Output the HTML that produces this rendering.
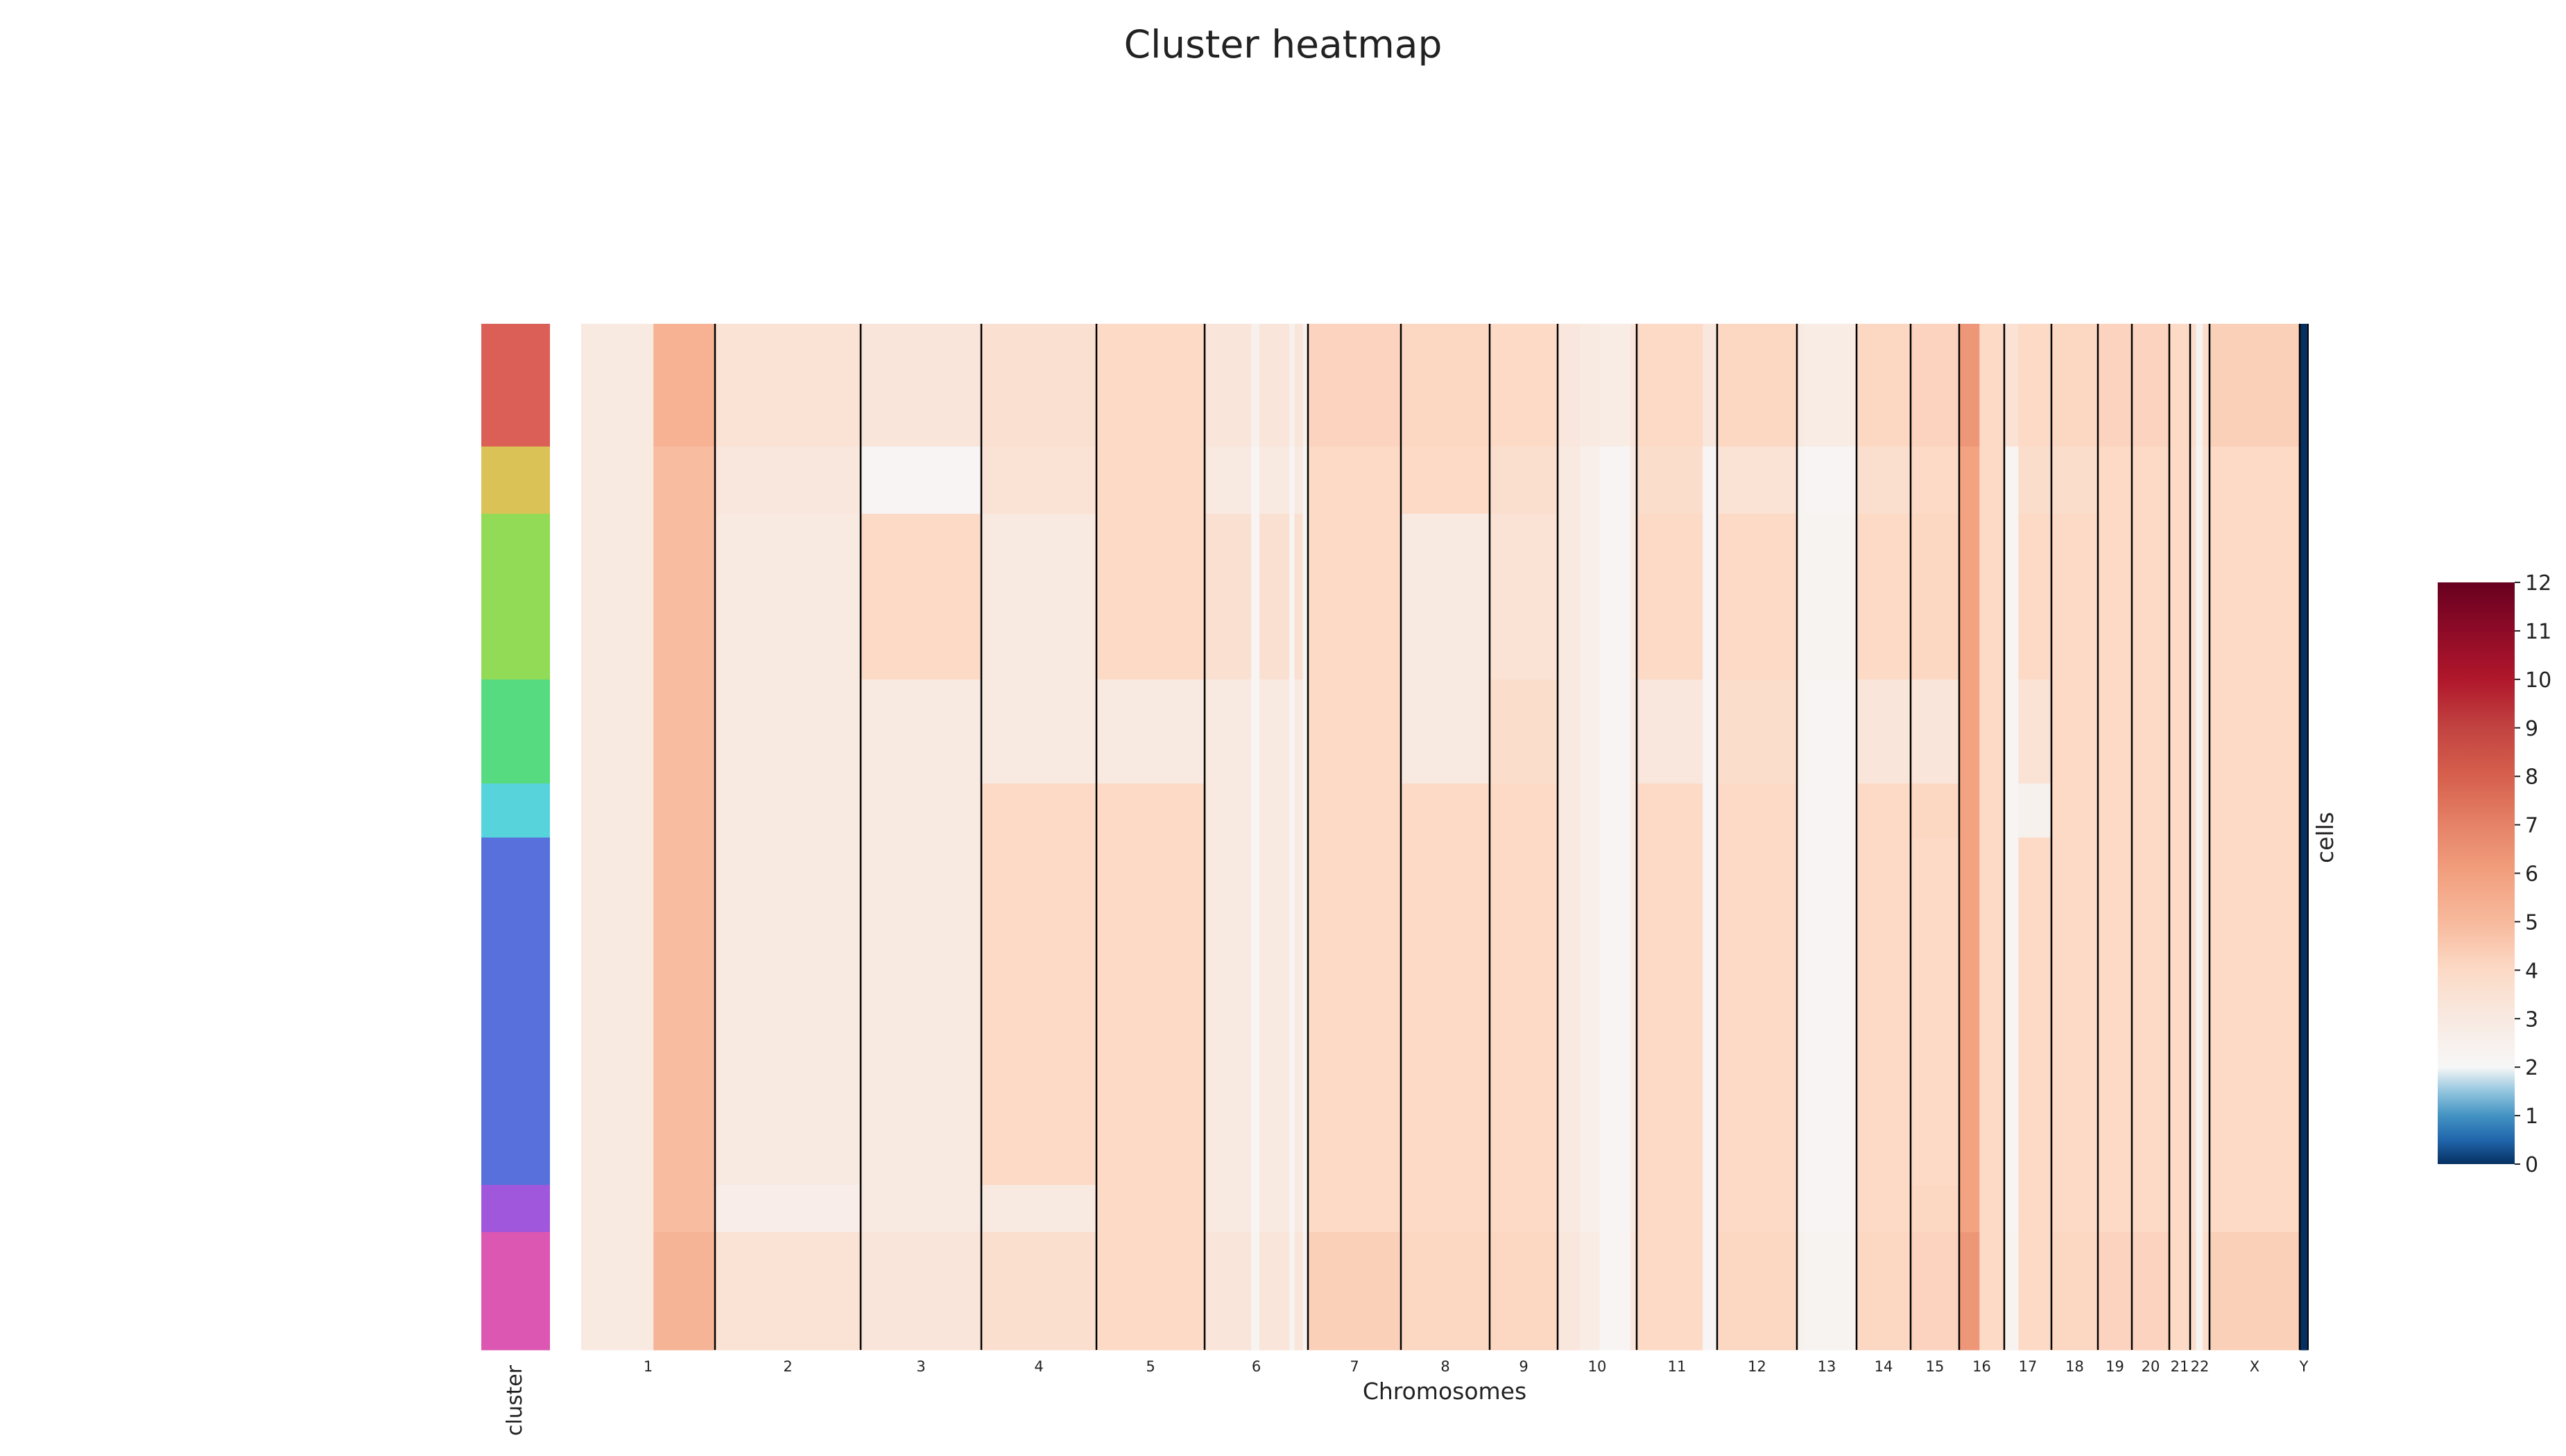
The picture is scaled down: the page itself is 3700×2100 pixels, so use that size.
<!DOCTYPE html>
<html><head><meta charset="utf-8"><title>Cluster heatmap</title>
<style>html,body{margin:0;padding:0;background:#fff;}svg{display:block;font-family:"DejaVu Sans","Liberation Sans",sans-serif;}</style>
</head><body>
<svg id="chart" width="3700" height="2100" viewBox="0 0 3700 2100" xmlns="http://www.w3.org/2000/svg">
<rect x="0" y="0" width="3700" height="2100" fill="#ffffff"/>
<text x="1850" y="83" text-anchor="middle" font-size="55" fill="#222">Cluster heatmap</text>
<g id="clusterBar"></g>
<g id="heat"></g>
<g id="sepLines"></g>
<g id="xTicks"></g>
<text x="2083" y="2018" text-anchor="middle" font-size="33" fill="#222">Chromosomes</text>
<text transform="translate(752,2020) rotate(-90)" text-anchor="middle" font-size="30" fill="#222">cluster</text>
<text transform="translate(3364,1208) rotate(-90)" text-anchor="middle" font-size="33" fill="#222">cells</text>
<defs><linearGradient id="cbGrad" x1="0" y1="1" x2="0" y2="0"></linearGradient></defs>
<rect x="3515" y="840" width="111" height="839" fill="url(#cbGrad)"/>
<g id="cbTicks"></g>
</svg>
<script>
const chromNames = ["1","2","3","4","5","6","7","8","9","10","11","12","13","14","15","16","17","18","19","20","21","22","X","Y"];
const chromBins = [193,210,174,166,156,149,134,128,98,114,116,115,86,78,70,65,68,67,49,54,30,28,130,12];
const clusterNames = ["c0","c1","c2","c3","c4","c5","c6","c7"];
const clusterColors = ["#db5f57","#dbc257","#91db57","#57db80","#57d3db","#5770db","#a157db","#db57b2"];
const clusterSizes = [177,97,239,150,78,501,68,170];
// segments: [chromIndex, startFrac, endFrac]
const segChrom = [0,0,1,2,3,4,5,5,5,5,5,5,6,7,8,9,9,9,9,10,10,11,12,12,13,14,15,15,16,16,17,18,19,20,21,21,21,22,23];
const segStart = [0,0.54,0,0,0,0,0,0.45,0.53,0.82,0.87,0.95,0,0,0,0,0.28,0.53,0.92,0,0.82,0,0,0.12,0,0,0,0.45,0,0.3,0,0,0,0,0,0.3,0.65,0,0];
const segEnd   = [0.54,1,1,1,1,1,0.45,0.53,0.82,0.87,0.95,1,1,1,1,0.28,0.53,0.92,1,0.82,1,1,0.12,1,1,1,0.45,1,0.3,1,1,1,1,1,0.3,0.65,1,1,1];
const valRed    = [3,5.3,3.5,3.3,3.6,4,3.3,2.5,3.3,2.5,3.3,2.5,4.2,4.1,4,3.2,3,2.8,3.3,4,3.2,4.1,3,2.8,4.1,4.2,6.3,4,3.5,4,4.1,4.2,4.2,4,3.8,2.3,3.8,4.3,0];
const valYellow = [3,4.9,3.2,2.2,3.5,4,3,2.2,3,2.2,3,2.2,4,4,3.7,3,2.6,2.2,3,3.8,2.2,3.5,2.3,2.2,3.7,4,5.9,4,2.2,3.8,3.8,4,4,4,3.6,2.2,3.6,4,0];
const valGreen  = [3,4.9,3,4,3,4,3.6,2.2,3.6,2.2,3.6,2.2,4,3,3.5,3,2.6,2.2,3,4,2.2,4,2.3,2.3,4,4.1,5.9,4,2.2,4,4,4,4,4,3.6,2.2,3.6,4,0];
const valGreen2 = [3,4.9,3,3,3,3,3,2.2,3,2.2,3,2.2,4,3,3.8,3,2.6,2.2,3,3.2,2.2,3.8,2.3,2.2,3.3,3.3,5.9,4,2.2,3.5,4,4,4,4,3.6,2.2,3.6,4,0];
const valCyan   = [3,4.9,3,3,4,4,3,2.2,3,2.2,3,2.2,4,4,4,3,2.6,2.2,3,4,2.2,4,2.3,2.2,4,4.1,5.9,4,2.2,2.4,4,4,4,4,3.6,2.2,3.6,4,0];
const valBlue   = [3,4.9,3,3,4,4,3,2.2,3,2.2,3,2.2,4,4,4,3,2.6,2.2,3,4,2.2,4,2.3,2.2,4,4,5.9,4,2.2,4,4,4,4,4,3.6,2.2,3.6,4,0];
const valPurple = [3,4.9,2.7,3,3,4,3,2.2,3,2.2,3,2.2,4,4,4,3,2.6,2.2,3,4,2.2,4,2.3,2.2,4,4.1,5.9,4,2.2,4,4,4,4,4,3.6,2.2,3.6,4,0];
const valPink   = [3,5.2,3.5,3.3,3.7,4,3.3,2.3,3.3,2.3,3.3,2.3,4.3,4.1,4.1,3.2,2.8,2.2,3.2,4,2.2,4.1,2.4,2.3,4.1,4.2,6.3,4,2.3,4,4.1,4.2,4.2,4,3.8,2.3,3.8,4.3,0];
const cbTickLabels = ["0","1","2","3","4","5","6","7","8","9","10","11","12"];

const clusterValues = [valRed,valYellow,valGreen,valGreen2,valCyan,valBlue,valPurple,valPink];
const NS = "http://www.w3.org/2000/svg";
const HX0 = 838, HX1 = 3328, HY0 = 467, HY1 = 1947;
const VMIN = 0, VMAX = 12;
const stopV = [0,0.5,1,1.5,2,3,4,5,6,7,8,9,10,11,12];
const stopC = ["#053061","#2166ac","#4393c3","#92c5de","#f7f7f7","#f8e9e1","#fcdac6","#f7b99c","#f2a07f","#e58267","#d6604d","#c24341","#b0172b","#8e0b27","#67001f"];
function hex(c){return [1,3,5].map(i=>parseInt(c.substr(i,2),16));}
function cmap(v){
  v=Math.max(VMIN,Math.min(VMAX,v));
  for(let i=0;i<stopV.length-1;i++){
    if(v<=stopV[i+1]){const t=(v-stopV[i])/(stopV[i+1]-stopV[i]);const a=hex(stopC[i]),b=hex(stopC[i+1]);
      return "rgb("+a.map((x,k)=>Math.round(x+(b[k]-x)*t)).join(",")+")";}
  }
  return stopC[stopC.length-1];
}
const totalBins = chromBins.reduce((a,b)=>a+b,0);
const totalCells = clusterSizes.reduce((a,b)=>a+b,0);
const chromStart = []; {let s=0; chromBins.forEach(b=>{chromStart.push(s); s+=b;});}
function xScale(bin){return HX0 + bin/totalBins*(HX1-HX0);}
function yScale(cell){return HY0 + cell/totalCells*(HY1-HY0);}
function mk(tag, attrs, parent){const e=document.createElementNS(NS,tag);for(const k in attrs)e.setAttribute(k,attrs[k]);parent.appendChild(e);return e;}

const heat=document.getElementById('heat'), cbar=document.getElementById('clusterBar');
let rowStart=0;
clusterSizes.forEach((n,ci)=>{
  const y0=yScale(rowStart), y1=yScale(rowStart+n);
  const cr=mk('rect',{x:694,y:y0,width:99,height:y1-y0+0.5,fill:clusterColors[ci]},cbar);
  
  
  segChrom.forEach((c,si)=>{
    const b0=chromStart[c]+segStart[si]*chromBins[c], b1=chromStart[c]+segEnd[si]*chromBins[c];
    const x0=xScale(b0), x1=xScale(b1);
    const r=mk('rect',{x:x0,y:y0,width:x1-x0+0.5,height:y1-y0+0.5,fill:cmap(clusterValues[ci][si])},heat);
    
    
  });
  rowStart+=n;
});
const sep=document.getElementById('sepLines'), xt=document.getElementById('xTicks');
chromNames.forEach((nm,i)=>{
  if(i>0){const x=xScale(chromStart[i]);
    const l=mk('line',{x1:x,x2:x,y1:HY0,y2:HY1,stroke:'#000','stroke-width':2.5},sep);
    
    }
  const cx=xScale(chromStart[i]+chromBins[i]/2);
  const t=mk('text',{x:cx,y:1978,'text-anchor':'middle','font-size':21,fill:'#222'},xt);
  t.textContent=nm;
  
  
});
const edge=mk('line',{x1:HX1,x2:HX1,y1:HY0,y2:HY1,stroke:'#000','stroke-width':2},sep);


// colorbar
const grad=document.getElementById('cbGrad');
stopV.forEach((v,i)=>{mk('stop',{offset:(v-VMIN)/(VMAX-VMIN),'stop-color':stopC[i]},grad);});
const cbt=document.getElementById('cbTicks');
cbTickLabels.forEach((lab)=>{
  const v=parseFloat(lab); const y=1679-(v-VMIN)/(VMAX-VMIN)*839;
  const tl=mk('line',{x1:3626,x2:3634,y1:y,y2:y,stroke:'#222','stroke-width':2},cbt);
  
  
  const t=mk('text',{x:3641,y:y+11,'font-size':30,fill:'#222'},cbt);
  t.textContent=lab;
  
  
});
</script>
</body></html>
